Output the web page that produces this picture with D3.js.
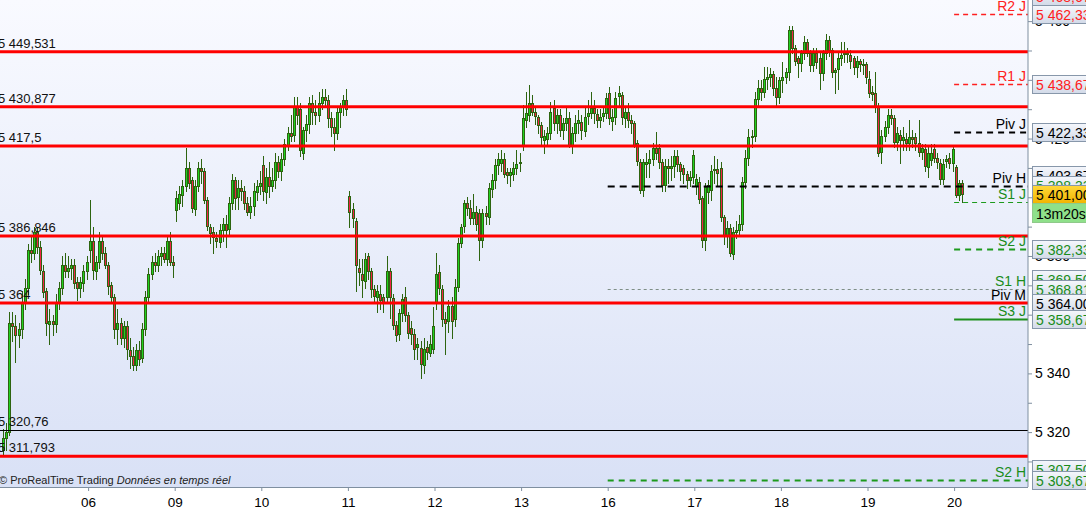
<!DOCTYPE html>
<html><head><meta charset="utf-8">
<script src="https://cdn.jsdelivr.net/npm/d3@7"></script>
<style>
html,body{margin:0;padding:0;background:#fff;overflow:hidden}
svg{display:block;font-family:"Liberation Sans",Arial,sans-serif}
</style></head><body>
<svg id="c" width="1086" height="508"></svg>
<script>
// ---------- DATA ----------
const dayLabels = ["05","06","09","10","11","12","13","16","17","18","19","20"];
// candles per day: [open, high, low, close]
const day05 = [
[5314,5321,5311.8,5318],[5318,5323,5314,5320],[5320,5361,5319,5357],[5357,5361,5351,5356],
[5356,5360,5344,5353],[5353,5357,5349,5355],[5355,5368,5352,5364],[5364,5372,5362,5369],
[5369,5384,5367,5382],[5382,5387,5378,5381],[5381,5390,5379,5388],[5388,5390,5381,5383],
[5383,5385,5374,5375],[5375,5377,5366,5368],[5368,5369,5353,5357],[5357,5362,5350,5358],
[5358,5360,5353,5357],[5357,5367,5354,5364],[5364,5371,5362,5369],[5369,5380,5367,5377],
[5377,5381,5373,5375],[5375,5380,5373,5376],[5376,5379,5372,5377],[5377,5379,5369,5371],
[5371,5373,5365,5369],[5369,5373,5366,5371],[5371,5377,5368,5375],[5375,5380,5372,5378]];
const day06 = [
[5382,5399,5378,5385],[5385,5390,5372,5375],[5375,5380,5372,5378],[5378,5388,5376,5385],
[5385,5387,5379,5381],[5381,5383,5376,5377],[5377,5378,5367,5370],[5370,5371,5364,5366],
[5366,5367,5352,5355],[5355,5362,5350,5357],[5357,5359,5350,5352],[5352,5358,5349,5356],
[5356,5358,5345,5348],[5348,5352,5342,5346],[5346,5349,5341,5343],[5343,5350,5341,5348],
[5348,5351,5343,5345],[5345,5357,5344,5355],[5355,5368,5353,5366],[5366,5376,5364,5374],
[5374,5380,5372,5378],[5378,5381,5375,5377],[5377,5382,5375,5380],[5380,5383,5377,5381],
[5381,5383,5378,5379],[5379,5387,5377,5385],[5385,5388,5377,5378],[5378,5380,5373,5377]];
const day09 = [
[5395.7,5402,5392,5399.8],[5398,5404,5396,5401],[5401,5406,5397,5404],[5404,5416.8,5402,5410],
[5410,5412,5403,5405],[5405.9,5407,5395,5396.3],[5396,5406,5394,5404],[5404,5412,5402,5410],
[5410,5413,5405,5409],[5409,5410,5398,5399],[5399,5400,5389,5390],[5390,5391,5384.4,5388],
[5388,5390,5381,5386.4],[5386,5388,5383,5385],[5385,5391,5383,5389],[5389,5393,5385,5391],
[5391,5394,5383,5389],[5389,5400,5387,5398],[5398,5408,5396,5406],[5406,5407,5396,5400],
[5400,5406,5396,5403],[5403,5406,5399,5402],[5402,5404,5396,5398],[5398,5400,5394,5395],
[5395,5400,5393,5397],[5397,5405,5394,5402],[5402,5406,5399,5404],[5404,5409,5401,5405]];
const day10 = [
[5411,5414,5399,5402],[5402,5410,5398,5407],[5407,5412,5400,5404],[5404,5410,5402,5406],
[5406,5415,5403,5412],[5412,5414,5407,5409],[5409,5415,5406,5413],[5413,5420,5411,5418],
[5418,5424,5416,5422],[5422,5428,5419,5421],[5421,5434,5419,5431],[5431,5434,5425,5428],
[5430,5432,5414,5416],[5415,5424,5413,5423],[5423,5428,5419,5425],[5425,5434,5422,5432],
[5432,5435,5425,5429],[5429,5433,5425,5428],[5428,5436,5426,5432],[5432,5437,5430,5434],
[5434,5437,5431,5433],[5433,5435,5424,5427],[5427,5429,5421,5424],[5424,5427,5416,5422],
[5422,5431,5420,5429],[5429,5432,5424,5431],[5431,5435,5428,5433],[5433,5437,5428,5430]];
const day11 = [
[5400.5,5402,5390,5395],[5396,5398,5390,5393],[5392,5393,5368,5377],[5376,5379,5370,5374.5],
[5374,5379,5366,5372],[5371.5,5381,5369,5379],[5380,5381,5372,5375],[5375,5376,5366,5368.7],
[5368.7,5370,5364.4,5366.4],[5366,5370,5361,5368],[5367,5370,5362,5365],[5366,5367,5361,5364],
[5366,5380,5364,5375],[5375,5376,5359,5366],[5365.7,5367,5355,5356.5],[5356.5,5358,5351,5353],
[5353.7,5362,5351.4,5360.7],[5360.7,5367,5358,5365.4],[5366,5369.5,5358,5360],[5360,5361,5352,5353.8],
[5355.5,5358,5350,5353.4],[5353.4,5355,5345,5348.3],[5349,5352,5345,5350],[5348.6,5351,5338.4,5343.2],
[5342.9,5352,5340,5348.3],[5349,5351,5345,5347.3],[5347,5353,5346,5350],[5348.3,5362.7,5347,5356]];
const day12 = [
[5364.4,5381,5362,5373.8],[5374.6,5377,5367,5369],[5368.7,5370,5356,5358.5],[5358.5,5361,5346.5,5357.3],
[5357.6,5365,5354,5362.8],[5362.8,5366,5352,5357.6],[5358.5,5372,5356,5369.5],[5369.5,5386,5368,5384.5],
[5384.5,5391,5383,5390],[5390,5399,5388,5398],[5398,5400,5394,5396.3],[5396.3,5399,5391,5393],
[5393,5401,5391,5395],[5395,5397,5389,5391],[5394.6,5396,5378.6,5385.4],[5385.4,5396,5383,5394.6],
[5394.6,5397,5391,5393.5],[5393.3,5405,5391,5403.2],[5403,5408,5400,5406],[5406,5413,5403,5411],
[5411,5415,5408,5413],[5411.5,5416,5409,5413],[5413,5415,5407,5408],[5408.5,5410,5405,5407.5],
[5407.5,5410,5404,5408.5],[5408,5412,5406,5410],[5410,5416,5408,5411.5],[5411.5,5415,5409,5412]];
const day13 = [
[5417.8,5431.4,5416,5426.9],[5426.3,5436,5424,5428.6],[5428,5438.2,5426,5432],[5432,5435,5428,5429.1],
[5429.1,5431,5425,5427.7],[5427.2,5428,5422,5424.6],[5424.6,5425.5,5417.8,5420.6],[5419.5,5423,5415.2,5421],
[5420,5424,5418,5422],[5421.8,5432.6,5420,5429.1],[5430.3,5433,5423,5425.2],[5425.3,5430,5422,5428],
[5428,5430,5421,5422.9],[5422.9,5427,5420,5425.2],[5425.2,5430.3,5423,5426.9],[5426.9,5429,5417,5417.8],
[5417.8,5424,5415,5421.8],[5421.8,5428,5419,5425.2],[5425.2,5429.7,5422,5426.2],[5425.5,5428,5420,5422.9],
[5422.9,5430.3,5421,5427.5],[5427.5,5433,5425,5428.6],[5428.6,5436,5427,5430.3],[5430.3,5433,5425.2,5428.6],
[5428.3,5430,5424,5426.3],[5426.3,5430,5424,5427.2],[5427.5,5431,5426,5428.6],[5428.6,5435.4,5427,5433.7]];
const day16 = [
[5435.4,5437.7,5425,5426.9],[5426.3,5430,5423,5427.5],[5427.2,5436,5425,5433.7],[5434.3,5437.9,5431,5435.4],
[5434.8,5436,5425,5427.2],[5427.2,5431,5424,5429.1],[5429.1,5432,5424,5426.3],[5426.3,5428,5422,5425.2],
[5425.2,5426,5417,5417.8],[5418.4,5419.5,5411,5412.1],[5412.1,5413,5401.3,5402.5],[5402.5,5413,5400.5,5412.1],
[5411.5,5415,5407,5412.1],[5411.8,5416,5407,5413],[5413,5418.4,5411,5416.7],[5416.7,5422.3,5413,5415],
[5416.7,5418,5410,5412.1],[5412.1,5413,5402,5404.2],[5404.2,5413,5402,5410.8],[5410.8,5413,5405,5410],
[5410,5414,5406,5410.8],[5410.6,5416,5407,5414],[5414,5416,5409,5411.3],[5411.3,5412,5406,5409],
[5409.9,5411,5405,5408],[5408,5409,5403,5405.9],[5405.9,5409,5404,5406.8],[5406.8,5416,5405,5414.4]];
const day17 = [
[5403.6,5408,5401,5406.1],[5405.3,5407,5398,5399.6],[5399.6,5400.5,5383,5385.4],[5385.4,5405,5382,5403.6],
[5401.9,5406,5398,5404.2],[5402.5,5411,5399,5409],[5409,5414,5405,5409.5],[5409.5,5413,5404,5408],
[5409.9,5412,5392,5393.2],[5393.2,5394,5384,5386.6],[5386.6,5392,5383,5389.4],[5389.4,5391,5380,5380.9],
[5380.9,5390,5379,5388.3],[5388.3,5392,5386,5389],[5389,5394,5387,5390.9],[5390.9,5407,5389,5405.3],
[5405.3,5416,5403,5413.4],[5413.4,5423.4,5411,5420.5],[5420.5,5423,5417,5421],[5421,5436,5419,5433.5],
[5433.5,5439.9,5431,5437.2],[5437.2,5440,5433,5436],[5436,5444.4,5434,5440.3],[5440.3,5444.4,5437,5441],
[5441,5444,5438,5442],[5442,5443,5435,5437.2],[5437.2,5441,5431,5434.2],[5434.2,5441,5432,5439.9]];
const day18 = [
[5439.9,5446,5436,5441],[5441,5444,5439,5442.7],[5442.7,5458.3,5440,5457],[5457,5458.3,5449,5450.8],
[5450.8,5452,5445,5446.4],[5447.4,5448,5441,5445.7],[5445.7,5450,5443,5449.1],[5449.1,5455,5447,5452.9],
[5452.9,5454,5448,5449.1],[5449.1,5450,5443,5445],[5445,5451,5443,5449.1],[5449.1,5451,5444,5446],
[5447.5,5449,5437,5442.3],[5442.3,5450,5440,5449.1],[5449.1,5455.5,5447,5453.6],[5453.6,5455,5448,5450.2],
[5450.2,5451,5441,5442.7],[5442.7,5444,5435.5,5443.5],[5443.5,5449,5437,5447.4],[5447.4,5453,5445,5448.5],
[5448.5,5453,5446,5449],[5449,5451,5446,5448.5],[5448.5,5450,5444,5446.5],[5447.4,5448,5442,5444.4],
[5444.4,5448,5441,5446.5],[5446.5,5447,5443,5445.5],[5445.5,5447,5442,5445],[5445.5,5446,5439,5441]];
const day19 = [
[5440.2,5443.1,5434,5435.6],[5436,5438,5433,5435.2],[5435.4,5442.8,5429,5431.1],[5431.1,5432,5414,5415.2],
[5415.5,5423,5411.6,5420.9],[5420.9,5426,5419,5423.8],[5424,5430,5422,5428],[5428,5430,5425,5426.9],
[5426.9,5428,5417,5418.6],[5418.6,5424,5416,5421.8],[5421.2,5423,5411.6,5419.5],[5419.5,5424,5416,5420.6],
[5419.7,5422,5416,5418.4],[5418.4,5426.3,5416,5420.6],[5420.4,5423,5417,5419.7],[5420.4,5422,5416,5418.4],
[5418.4,5426.3,5414,5415.5],[5415.5,5418,5413,5416.7],[5416.3,5418,5409,5410.4],[5410.4,5417,5407,5415],
[5412.7,5418,5411,5415.2],[5416.3,5418,5412,5413.3],[5413.3,5415,5410,5412.1],[5411.6,5413,5404.5,5406.1],
[5406.1,5413,5404.5,5411.3],[5412.4,5414.4,5410.4,5413],[5413.3,5415,5410,5411.6],[5411.6,5417.2,5409,5416.3]];
const day20 = [
[5410.3,5411,5400,5400.8],[5400.8,5406,5399,5404.8],[5404.8,5406,5398.5,5401]];
const days = [day05,day06,day09,day10,day11,day12,day13,day16,day17,day18,day19,day20];

// horizontal user levels
const redLevels = [5449.531, 5430.877, 5417.5, 5386.846, 5364, 5311.793];
const blackLevels = [5320.76];
// pivot points
const pivotNames  = ["R2 J","R1 J","Piv J","Piv H","S1 J","S2 J","S1 H","Piv M","S3 J","S2 H"];
const pivotValues = [5462.33,5438.67,5422.33,5403.67,5398.33,5382.33,5368.81,5364.00,5358.67,5303.67];
// price tags on the right scale
const tagValues = [5468.67,5462.33,5438.67,5422.33,5403.67,5398.33,5382.33,5369.5,5368.81,5364.00,5358.67,5307.5,5303.67];
const tagKinds  = ["R","R","R","P","P","S","S","S","S","P","S","S","S"];
const currentPrice = 5401.00;
const countdown = "13m20s";
const yTicks = [5310,5320,5330,5340,5350,5360,5370,5380,5390,5400,5410,5420,5430,5440,5450,5460];

// ---------- DRAW ----------
const W=1086,H=508,plotR=1028,plotB=487;
const svg=d3.select("#c");
const loc=d3.formatLocale({decimal:",",thousands:" ",grouping:[3],currency:["",""]});
const fInt=loc.format(","), f2=loc.format(",.2f"), fAny=loc.format(",");

const candles=[].concat(...days);
const dayStarts=[]; {let s=0; days.forEach(d=>{dayStarts.push(s); s+=d.length;});}
const xs=d3.scaleLinear().domain([0,28*11]).range([1.5,954.1]);
const ys=d3.scaleLinear().domain([5301.3,5467.2]).range([plotB,0]);

const defs=svg.append("defs");
const bg=defs.append("linearGradient").attr("id","bg").attr("x1",0).attr("y1",0).attr("x2",0).attr("y2",1);
bg.append("stop").attr("offset","0%").attr("stop-color","#f9faff");
bg.append("stop").attr("offset","100%").attr("stop-color","#d9e1f6");
const tg=defs.append("linearGradient").attr("id","tag").attr("x1",0).attr("y1",0).attr("x2",0).attr("y2",1);
tg.append("stop").attr("offset","0%").attr("stop-color","#f5f7fc");
tg.append("stop").attr("offset","100%").attr("stop-color","#d2dae8");
const yg=defs.append("linearGradient").attr("id","yel").attr("x1",0).attr("y1",0).attr("x2",0).attr("y2",1);
yg.append("stop").attr("offset","0%").attr("stop-color","#ffd83a");
yg.append("stop").attr("offset","100%").attr("stop-color","#f2b400");
defs.append("clipPath").attr("id","clip").append("rect").attr("width",plotR).attr("height",plotB);

svg.append("rect").attr("width",W).attr("height",H).attr("fill","#fff");
svg.append("rect").attr("width",plotR).attr("height",plotB).attr("fill","url(#bg)");

const plot=svg.append("g").attr("clip-path","url(#clip)");

// candles
const GREEN="#1fd21f", RED="#ee2448", EDGE="#2d6410";
const cg=plot.append("g").selectAll("g").data(candles).join("g");
cg.append("line")
  .attr("x1",(d,i)=>Math.round(xs(i+0.5))+0.5).attr("x2",(d,i)=>Math.round(xs(i+0.5))+0.5)
  .attr("y1",d=>Math.round(ys(d[1]))).attr("y2",d=>Math.round(ys(d[2]))+1)
  .attr("stroke",EDGE).attr("stroke-width",1);
cg.append("rect")
  .attr("x",(d,i)=>Math.round(xs(i+0.5))-0.5).attr("width",2)
  .attr("y",d=>Math.round(ys(Math.max(d[0],d[3])))+0.5)
  .attr("height",d=>Math.max(1,Math.round(Math.abs(ys(d[0])-ys(d[3])))))
  .attr("fill",d=>d[3]>=d[0]?GREEN:RED).attr("stroke",EDGE).attr("stroke-width",1);

// user levels
plot.selectAll("line.red").data(redLevels).join("line")
  .attr("x1",0).attr("x2",plotR).attr("y1",d=>ys(d)).attr("y2",d=>ys(d))
  .attr("stroke","#ff0000").attr("stroke-width",3);
plot.selectAll("line.blk").data(blackLevels).join("line")
  .attr("x1",0).attr("x2",plotR).attr("y1",d=>Math.round(ys(d))+0.5).attr("y2",d=>Math.round(ys(d))+0.5)
  .attr("stroke","#000").attr("stroke-width",1);
plot.selectAll("text.lv").data(redLevels.concat(blackLevels)).join("text")
  .attr("x",-2).attr("y",d=>ys(d)-4).attr("font-size",13).attr("fill","#111").text(d=>fAny(d));

// pivot lines
const pStyle={
 "R2 J":{c:"#ff2020",w:1.3,da:"5,4",s:"J",tc:"#ff2020"},
 "R1 J":{c:"#ff2020",w:1.3,da:"5,4",s:"J",tc:"#ff2020"},
 "Piv J":{c:"#000",w:2,da:"6,5",s:"J",tc:"#000"},
 "Piv H":{c:"#000",w:2,da:"7,5",s:"H",tc:"#000"},
 "S1 J":{c:"#1d9a1d",w:1,da:"5,4",s:"J",tc:"#1a8c1a"},
 "S2 J":{c:"#1d9a1d",w:2,da:"6,5",s:"J",tc:"#1a8c1a"},
 "S1 H":{c:"#7f8f86",w:1,da:"3,3",s:"H",tc:"#1a8c1a"},
 "Piv M":{c:null,w:0,da:null,s:"M",tc:"#000"},
 "S3 J":{c:"#1d8f1d",w:2,da:null,s:"J",tc:"#1a8c1a"},
 "S2 H":{c:"#1d9a1d",w:2,da:"6,5",s:"H",tc:"#1a8c1a"}
};
const startX={J:xs(dayStarts[11]),H:xs(dayStarts[7]),M:0};
pivotNames.forEach((n,i)=>{
  const st=pStyle[n], y=Math.round(ys(pivotValues[i]))+0.5;
  if(st.c){
    const l=plot.append("line").attr("x1",startX[st.s]).attr("x2",plotR).attr("y1",y).attr("y2",y)
      .attr("stroke",st.c).attr("stroke-width",st.w);
    if(st.da) l.attr("stroke-dasharray",st.da);
  }
  plot.append("text").attr("x",1026).attr("y",ys(pivotValues[i])-3).attr("text-anchor","end")
    .attr("font-size",14).attr("fill",st.tc).text(n);
});

// watermark
const wm=svg.append("text").attr("x",-1).attr("y",484).attr("font-size",11).attr("fill","#222");
wm.append("tspan").text("© ProRealTime Trading  ");
wm.append("tspan").attr("font-style","italic").text("Données en temps réel");

// axes
const axisColor="#7f8fa0";
const yAxis=d3.axisRight(ys).tickValues(yTicks).tickSize(4).tickPadding(3)
  .tickFormat(v=>v%20===0?fInt(v):"");
const ya=svg.append("g").attr("transform",`translate(${plotR},0)`).call(yAxis);
ya.select(".domain").attr("stroke",axisColor).attr("d",`M0.5,0V${plotB}`).attr("transform","translate(-0.5,0)");
ya.selectAll(".tick line").attr("stroke",axisColor);
ya.selectAll(".tick text").attr("font-size",14).attr("fill","#000").attr("font-family","Liberation Sans, Arial, sans-serif");

const xAxis=d3.axisBottom(xs).tickValues(dayStarts.slice(1)).tickSize(4).tickPadding(6)
  .tickFormat((v,i)=>dayLabels[i+1]);
const xa=svg.append("g").attr("transform",`translate(0,${plotB})`).call(xAxis);
xa.select(".domain").attr("stroke",axisColor).attr("d",`M0,0.5H${plotR}`);
xa.selectAll(".tick line").attr("stroke",axisColor);
xa.selectAll(".tick text").attr("font-size",13.5).attr("fill","#000").attr("font-family","Liberation Sans, Arial, sans-serif");

// price tags (stacked bottom-to-top to avoid overlaps; current price has priority)
const kindColor={R:"#ff2020",P:"#000",S:"#1a8c1a"};
const TH=18, STEP=9.5;
const curTop=ys(currentPrice)-TH/2;
const order=tagValues.map((v,i)=>i).sort((a,b)=>tagValues[a]-tagValues[b]);
const tops={}; let prev=Infinity;
order.forEach(i=>{
  let t=Math.min(ys(tagValues[i])-TH/2, prev-STEP);
  if(t+TH>curTop && t<curTop+2*TH) t=Math.min(t,curTop-STEP);
  tops[i]=t; prev=t;
});
const tagG=svg.append("g");
tagValues.map((v,i)=>i).sort((a,b)=>tops[a]-tops[b]).forEach(i=>{
  const g=tagG.append("g").attr("transform",`translate(1032.5,${Math.round(tops[i])+0.5})`);
  g.append("rect").attr("width",60).attr("height",TH).attr("fill","url(#tag)").attr("stroke","#8797aa");
  g.append("text").attr("x",3.5).attr("y",14).attr("font-size",14).attr("fill",kindColor[tagKinds[i]]).text(f2(tagValues[i]));
});
const cy=Math.round(curTop)+0.5;
const cur=tagG.append("g").attr("transform",`translate(1032.5,${cy})`);
cur.append("rect").attr("width",60).attr("height",TH).attr("fill","url(#yel)").attr("stroke","#8797aa");
cur.append("text").attr("x",3.5).attr("y",14).attr("font-size",14).attr("fill","#000").text(f2(currentPrice));
const cd=tagG.append("g").attr("transform",`translate(1032.5,${cy+TH})`);
cd.append("rect").attr("width",60).attr("height",TH+1).attr("fill","#8fe08a").attr("stroke","#8fc98a");
cd.append("text").attr("x",3.5).attr("y",15).attr("font-size",14).attr("fill","#000").text(countdown);
</script>
</body></html>
